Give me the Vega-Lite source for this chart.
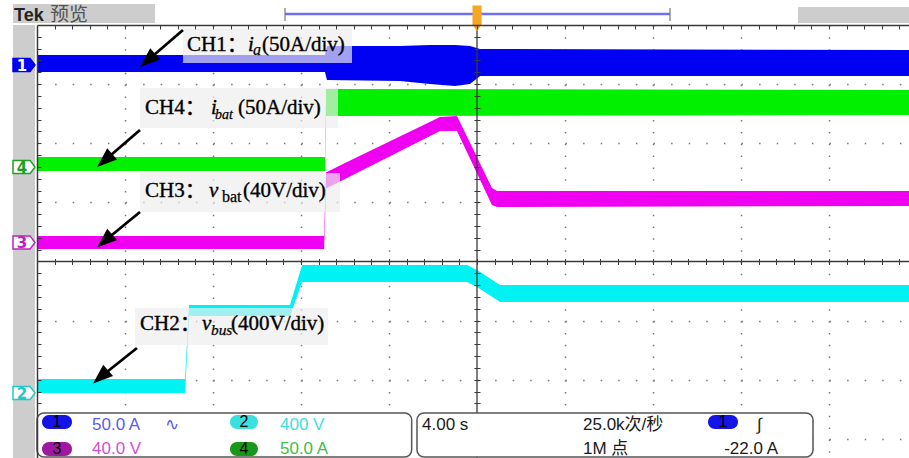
{
  "$schema": "https://vega.github.io/schema/vega-lite/v6.json",
  "width": 872,
  "height": 433,
  "autosize": {"type": "none"},
  "padding": {"left": 37, "top": 25, "right": 0, "bottom": 0},
  "background": "white",
  "config": {"view": {"stroke": null}},
  "resolve": {
    "axis": {"x": "independent", "y": "independent"},
    "scale": {"color": "independent", "fill": "independent", "stroke": "independent", "size": "independent"}
  },
  "datasets": {
    "anchor": [{"t": 20, "v": 0}],
    "traces": [
      {"ch": "CH1", "t": 0, "hi": 3.4926, "lo": 3.205},
      {"ch": "CH1", "t": 13.09, "hi": 3.4926, "lo": 3.205},
      {"ch": "CH1", "t": 13.18, "hi": 3.645, "lo": 3.07},
      {"ch": "CH1", "t": 16.5, "hi": 3.645, "lo": 3.053},
      {"ch": "CH1", "t": 17.86, "hi": 3.662, "lo": 3.002},
      {"ch": "CH1", "t": 19.0, "hi": 3.662, "lo": 2.968},
      {"ch": "CH1", "t": 19.68, "hi": 3.645, "lo": 3.002},
      {"ch": "CH1", "t": 20.14, "hi": 3.594, "lo": 3.137},
      {"ch": "CH1", "t": 39.64, "hi": 3.577, "lo": 3.137},
      {"ch": "CH4", "t": 0, "hi": 1.767, "lo": 1.531},
      {"ch": "CH4", "t": 13.09, "hi": 1.767, "lo": 1.531},
      {"ch": "CH4", "t": 13.14, "hi": 2.918, "lo": 2.461},
      {"ch": "CH4", "t": 39.64, "hi": 2.901, "lo": 2.478},
      {"ch": "CH3", "t": 0, "hi": 0.431, "lo": 0.211},
      {"ch": "CH3", "t": 13.05, "hi": 0.431, "lo": 0.211},
      {"ch": "CH3", "t": 13.14, "hi": 1.514, "lo": 1.243},
      {"ch": "CH3", "t": 13.18, "hi": 1.514, "lo": 1.243},
      {"ch": "CH3", "t": 14.0, "hi": 1.666, "lo": 1.395},
      {"ch": "CH3", "t": 18.32, "hi": 2.444, "lo": 2.207},
      {"ch": "CH3", "t": 19.09, "hi": 2.461, "lo": 2.207},
      {"ch": "CH3", "t": 20.68, "hi": 1.243, "lo": 0.956},
      {"ch": "CH3", "t": 20.91, "hi": 1.192, "lo": 0.922},
      {"ch": "CH3", "t": 39.64, "hi": 1.192, "lo": 0.939},
      {"ch": "CH2", "t": 0, "hi": -1.987, "lo": -2.224},
      {"ch": "CH2", "t": 6.73, "hi": -1.987, "lo": -2.224},
      {"ch": "CH2", "t": 6.91, "hi": -0.736, "lo": -0.922},
      {"ch": "CH2", "t": 11.5, "hi": -0.736, "lo": -0.922},
      {"ch": "CH2", "t": 12.05, "hi": -0.059, "lo": -0.347},
      {"ch": "CH2", "t": 19.55, "hi": -0.059, "lo": -0.347},
      {"ch": "CH2", "t": 20.0, "hi": -0.144, "lo": -0.431},
      {"ch": "CH2", "t": 21.05, "hi": -0.398, "lo": -0.685},
      {"ch": "CH2", "t": 39.64, "hi": -0.398, "lo": -0.685}
    ],
    "grayRects": [
      {"t1": -1.091, "t2": 5.364, "v1": 4.355, "v2": 4.034},
      {"t1": 34.591, "t2": 39.64, "v1": 4.3044, "v2": 4.034},
      {"t1": -1.091, "t2": -0.091, "v1": 4.0, "v2": -3.3235}
    ],
    "markers": [
      {"ch": "CH1", "num": "1", "t": -0.591, "v": 3.3235},
      {"ch": "CH4", "num": "4", "t": -0.591, "v": 1.598},
      {"ch": "CH3", "num": "3", "t": -0.591, "v": 0.3214},
      {"ch": "CH2", "num": "2", "t": -0.591, "v": -2.224}
    ],
    "labelBoxes": [
      {"ch": "CH1", "t1": 6.636, "t2": 14.318, "v1": 3.9493, "v2": 3.3573},
      {"ch": "CH4", "t1": 4.682, "t2": 13.682, "v1": 2.9345, "v2": 2.2579},
      {"ch": "CH3", "t1": 4.682, "t2": 13.773, "v1": 1.4968, "v2": 0.8372},
      {"ch": "CH2", "t1": 4.455, "t2": 13.227, "v1": -0.7865, "v2": -1.4123}
    ],
    "labelText": [
      {"ch": "CH1", "part": "main", "t": 6.818, "v": 3.5603, "txt": "CH1："},
      {"ch": "CH1", "part": "var", "t": 9.591, "v": 3.5603, "txt": "i"},
      {"ch": "CH1", "part": "sub", "t": 9.818, "v": 3.4926, "txt": "a"},
      {"ch": "CH1", "part": "main", "t": 10.227, "v": 3.5603, "txt": "(50A/div)"},
      {"ch": "CH4", "part": "main", "t": 4.909, "v": 2.4947, "txt": "CH4："},
      {"ch": "CH4", "part": "var", "t": 7.909, "v": 2.4947, "txt": "i"},
      {"ch": "CH4", "part": "sub", "t": 8.091, "v": 2.4101, "txt": "bat"},
      {"ch": "CH4", "part": "main", "t": 9.136, "v": 2.4947, "txt": "(50A/div)"},
      {"ch": "CH3", "part": "main", "t": 4.909, "v": 1.0909, "txt": "CH3："},
      {"ch": "CH3", "part": "var", "t": 7.818, "v": 1.0909, "txt": "v"},
      {"ch": "CH3", "part": "subr", "t": 8.409, "v": 1.0063, "txt": "bat"},
      {"ch": "CH3", "part": "main", "t": 9.364, "v": 1.0909, "txt": "(40V/div)"},
      {"ch": "CH2", "part": "main", "t": 4.682, "v": -1.1586, "txt": "CH2："},
      {"ch": "CH2", "part": "var", "t": 7.5, "v": -1.1586, "txt": "v"},
      {"ch": "CH2", "part": "sub", "t": 7.909, "v": -1.2431, "txt": "bus"},
      {"ch": "CH2", "part": "main", "t": 8.818, "v": -1.1586, "txt": "(400V/div)"}
    ],
    "arrows": [
      {"ch": "CH1", "t0": 6.636, "v0": 3.9154, "t1": 5.027, "v1": 3.3996},
      {"ch": "CH4", "t0": 4.682, "v0": 2.2241, "t1": 3.073, "v1": 1.7082},
      {"ch": "CH3", "t0": 4.682, "v0": 0.8372, "t1": 3.073, "v1": 0.3467},
      {"ch": "CH2", "t0": 4.545, "v0": -1.463, "t1": 2.891, "v1": -1.9535}
    ],
    "statusBoxes": [
      {"t1": 0, "t2": 17.03, "v1": -2.5624, "v2": -3.3066},
      {"t1": 17.273, "t2": 35.273, "v1": -2.5624, "v2": -3.3066}
    ],
    "pills": [
      {"p": "1", "t1": 0.227, "t2": 1.591, "v1": -2.5962, "v2": -2.833, "tm": 0.909, "vm": -2.7146, "txt": "1"},
      {"p": "2", "t1": 8.773, "t2": 10.045, "v1": -2.5962, "v2": -2.833, "tm": 9.409, "vm": -2.7146, "txt": "2"},
      {"p": "3", "t1": 0.227, "t2": 1.591, "v1": -3.0529, "v2": -3.2896, "tm": 0.909, "vm": -3.1712, "txt": "3"},
      {"p": "4", "t1": 8.773, "t2": 10.045, "v1": -3.0529, "v2": -3.2896, "tm": 9.409, "vm": -3.1712, "txt": "4"},
      {"p": "T", "t1": 30.5, "t2": 31.864, "v1": -2.5962, "v2": -2.833, "tm": 31.182, "vm": -2.7146, "txt": "1"}
    ],
    "statusText": [
      {"c": "1", "t": 2.5, "v": -2.8499, "txt": "50.0 A"},
      {"c": "1", "t": 5.818, "v": -2.8499, "txt": "∿"},
      {"c": "2", "t": 11.045, "v": -2.8499, "txt": "400 V"},
      {"c": "3", "t": 2.5, "v": -3.2558, "txt": "40.0 V"},
      {"c": "4", "t": 11.045, "v": -3.2558, "txt": "50.0 A"},
      {"c": "k", "t": 17.5, "v": -2.8499, "txt": "4.00 s"},
      {"c": "k", "t": 24.818, "v": -2.8499, "txt": "25.0k次/秒"},
      {"c": "k", "t": 24.818, "v": -3.2558, "txt": "1M 点"},
      {"c": "k", "t": 32.727, "v": -2.8499, "txt": "∫"}
    ]
  },
  "layer": [
    {
      "data": {"name": "traces"},
      "mark": {"type": "area", "interpolate": "linear"},
      "encoding": {
        "x": {"field": "t", "type": "quantitative", "scale": {"domain": [0, 39.6364], "nice": false, "zero": false},
          "axis": {"orient": "bottom", "values": [4, 8, 12, 16, 24, 28, 32, 36], "grid": true, "gridColor": "#7a7a7a", "gridWidth": 1.5, "gridDash": [1.5, 10.325], "domain": false, "ticks": false, "labels": false, "title": null}},
        "y": {"field": "hi", "type": "quantitative", "stack": null, "scale": {"domain": [-3.3235, 4], "nice": false, "zero": false},
          "axis": {"orient": "left", "values": [-3, -2, -1, 1, 2, 3], "grid": true, "gridColor": "#7a7a7a", "gridWidth": 1.5, "gridDash": [1.5, 16.1], "domain": false, "ticks": false, "labels": false, "title": null}},
        "y2": {"field": "lo"},
        "color": {"field": "ch", "type": "nominal", "scale": {"domain": ["CH1", "CH2", "CH3", "CH4"], "range": ["#0000f2", "#00f2f2", "#f000f0", "#00f000"]}, "legend": null}
      }
    },
    {
      "data": {"name": "anchor"},
      "mark": {"type": "point", "opacity": 0},
      "encoding": {
        "x": {"field": "t", "type": "quantitative", "scale": {"domain": [0, 39.6364], "nice": false, "zero": false},
          "axis": {"orient": "bottom", "offset": -433, "values": [0.8,1.6,2.4,3.2,4,4.8,5.6,6.4,7.2,8,8.8,9.6,10.4,11.2,12,12.8,13.6,14.4,15.2,16,16.8,17.6,18.4,19.2,20,20.8,21.6,22.4,23.2,24,24.8,25.6,26.4,27.2,28,28.8,29.6,30.4,31.2,32,32.8,33.6,34.4,35.2,36,36.8,37.6,38.4,39.2], "domain": true, "domainColor": "#3a3a3a", "domainWidth": 1.5, "ticks": true, "tickSize": 4, "tickColor": "#3a3a3a", "tickWidth": 1, "labels": false, "grid": false, "title": null, "zindex": 1}},
        "y": {"field": "v", "type": "quantitative", "scale": {"domain": [-3.3235, 4], "nice": false, "zero": false},
          "axis": {"orient": "right", "offset": -872, "values": [-2.4,-2.2,-2,-1.8,-1.6,-1.4,-1.2,-1,-0.8,-0.6,-0.4,-0.2,0,0.2,0.4,0.6,0.8,1,1.2,1.4,1.6,1.8,2,2.2,2.4,2.6,2.8,3,3.2,3.4,3.6,3.8], "domain": true, "domainColor": "#3a3a3a", "domainWidth": 1.5, "ticks": true, "tickSize": 4, "tickColor": "#3a3a3a", "tickWidth": 1, "labels": false, "grid": false, "title": null, "zindex": 1}}
      }
    },
    {
      "data": {"name": "anchor"},
      "mark": {"type": "point", "opacity": 0},
      "encoding": {
        "x": {"field": "t", "type": "quantitative", "scale": {"domain": [0, 39.6364], "nice": false, "zero": false},
          "axis": {"orient": "bottom", "offset": -199.5, "values": [0.8,1.6,2.4,3.2,4,4.8,5.6,6.4,7.2,8,8.8,9.6,10.4,11.2,12,12.8,13.6,14.4,15.2,16,16.8,17.6,18.4,19.2,20,20.8,21.6,22.4,23.2,24,24.8,25.6,26.4,27.2,28,28.8,29.6,30.4,31.2,32,32.8,33.6,34.4,35.2,36,36.8,37.6,38.4,39.2], "domain": false, "ticks": true, "tickSize": 6, "tickColor": "#3a3a3a", "tickWidth": 1, "labels": false, "grid": false, "title": null, "zindex": 1}},
        "y": {"field": "v", "type": "quantitative", "scale": {"domain": [-3.3235, 4], "nice": false, "zero": false},
          "axis": {"orient": "left", "offset": -443, "values": [-2.4,-2.2,-2,-1.8,-1.6,-1.4,-1.2,-1,-0.8,-0.6,-0.4,-0.2,0,0.2,0.4,0.6,0.8,1,1.2,1.4,1.6,1.8,2,2.2,2.4,2.6,2.8,3,3.2,3.4,3.6,3.8], "domain": false, "ticks": true, "tickSize": 6, "tickColor": "#3a3a3a", "tickWidth": 1, "labels": false, "grid": false, "title": null, "zindex": 1}}
      }
    },
    {
      "data": {"name": "anchor"},
      "mark": {"type": "rule", "color": "#3a3a3a", "strokeWidth": 1.3},
      "encoding": {
        "y": {"field": "v", "type": "quantitative", "scale": {"domain": [-3.3235, 4], "nice": false, "zero": false}, "axis": null}
      }
    },
    {
      "data": {"name": "anchor"},
      "mark": {"type": "rule", "color": "#3a3a3a", "strokeWidth": 1.3},
      "encoding": {
        "x": {"field": "t", "type": "quantitative", "scale": {"domain": [0, 39.6364], "nice": false, "zero": false}, "axis": null}
      }
    },
    {
      "data": {"name": "grayRects"},
      "mark": {"type": "rect", "color": "#cdcdcd"},
      "encoding": {
        "x": {"field": "t1", "type": "quantitative", "scale": {"domain": [0, 39.6364], "nice": false, "zero": false}, "axis": null},
        "x2": {"field": "t2"},
        "y": {"field": "v1", "type": "quantitative", "scale": {"domain": [-3.3235, 4], "nice": false, "zero": false}, "axis": null},
        "y2": {"field": "v2"}
      }
    },
    {
      "data": {"values": [{"t": -1.045, "v": 4.0677, "txt": "Tek"}]},
      "mark": {"type": "text", "align": "left", "baseline": "alphabetic", "font": "Liberation Sans", "fontSize": 18, "fontWeight": "bold", "color": "#222222"},
      "encoding": {
        "x": {"field": "t", "type": "quantitative", "scale": {"domain": [0, 39.6364], "nice": false, "zero": false}, "axis": null},
        "y": {"field": "v", "type": "quantitative", "scale": {"domain": [-3.3235, 4], "nice": false, "zero": false}, "axis": null},
        "text": {"field": "txt"}
      }
    },
    {
      "data": {"values": [{"t": 0.591, "v": 4.0677, "txt": "预览"}]},
      "mark": {"type": "text", "align": "left", "baseline": "alphabetic", "font": "Noto Sans CJK SC", "fontSize": 19, "color": "#555555"},
      "encoding": {
        "x": {"field": "t", "type": "quantitative", "scale": {"domain": [0, 39.6364], "nice": false, "zero": false}, "axis": null},
        "y": {"field": "v", "type": "quantitative", "scale": {"domain": [-3.3235, 4], "nice": false, "zero": false}, "axis": null},
        "text": {"field": "txt"}
      }
    },
    {
      "data": {"values": [{"t0": 11.273, "t1": 28.773, "v": 4.186}]},
      "mark": {"type": "rule", "color": "#7070ee", "strokeWidth": 2.5},
      "encoding": {
        "x": {"field": "t0", "type": "quantitative", "scale": {"domain": [0, 39.6364], "nice": false, "zero": false}, "axis": null},
        "x2": {"field": "t1"},
        "y": {"field": "v", "type": "quantitative", "scale": {"domain": [-3.3235, 4], "nice": false, "zero": false}, "axis": null}
      }
    },
    {
      "data": {"values": [{"t": 11.273, "v0": 4.287, "v1": 4.067}, {"t": 28.773, "v0": 4.287, "v1": 4.067}]},
      "mark": {"type": "rule", "color": "#777777", "strokeWidth": 1.2},
      "encoding": {
        "x": {"field": "t", "type": "quantitative", "scale": {"domain": [0, 39.6364], "nice": false, "zero": false}, "axis": null},
        "y": {"field": "v0", "type": "quantitative", "scale": {"domain": [-3.3235, 4], "nice": false, "zero": false}, "axis": null},
        "y2": {"field": "v1"}
      }
    },
    {
      "data": {"values": [{"t": 20, "v": 4.11}]},
      "mark": {"type": "point", "filled": true, "opacity": 1, "color": "#f5a623", "size": 676, "shape": "M-0.35,-1L0.35,-1L0.35,0.45L0,1L-0.35,0.45Z"},
      "encoding": {
        "x": {"field": "t", "type": "quantitative", "scale": {"domain": [0, 39.6364], "nice": false, "zero": false}, "axis": null},
        "y": {"field": "v", "type": "quantitative", "scale": {"domain": [-3.3235, 4], "nice": false, "zero": false}, "axis": null}
      }
    },
    {
      "data": {"name": "markers"},
      "mark": {"type": "point", "filled": true, "opacity": 1, "size": 484, "strokeWidth": 1.5, "shape": "M-1,-0.6L0.55,-0.6L1,0L0.55,0.6L-1,0.6Z"},
      "encoding": {
        "x": {"field": "t", "type": "quantitative", "scale": {"domain": [0, 39.6364], "nice": false, "zero": false}, "axis": null},
        "y": {"field": "v", "type": "quantitative", "scale": {"domain": [-3.3235, 4], "nice": false, "zero": false}, "axis": null},
        "fill": {"field": "ch", "type": "nominal", "scale": {"domain": ["CH1", "CH2", "CH3", "CH4"], "range": ["#0000f0", "#ffffff", "#ffffff", "#ffffff"]}, "legend": null},
        "stroke": {"field": "ch", "type": "nominal", "scale": {"domain": ["CH1", "CH2", "CH3", "CH4"], "range": ["#0000f0", "#22c8c8", "#c020c0", "#20a020"]}, "legend": null}
      }
    },
    {
      "data": {"name": "markers"},
      "mark": {"type": "text", "align": "center", "baseline": "middle", "font": "DejaVu Sans", "fontSize": 15, "fontWeight": "bold", "dx": -2, "dy": 1},
      "encoding": {
        "x": {"field": "t", "type": "quantitative", "scale": {"domain": [0, 39.6364], "nice": false, "zero": false}, "axis": null},
        "y": {"field": "v", "type": "quantitative", "scale": {"domain": [-3.3235, 4], "nice": false, "zero": false}, "axis": null},
        "text": {"field": "num"},
        "color": {"field": "ch", "type": "nominal", "scale": {"domain": ["CH1", "CH2", "CH3", "CH4"], "range": ["#ffffff", "#22c8c8", "#c020c0", "#20a020"]}, "legend": null}
      }
    },
    {
      "data": {"name": "labelBoxes"},
      "mark": {"type": "rect", "color": "#eeeeee", "opacity": 0.68},
      "encoding": {
        "x": {"field": "t1", "type": "quantitative", "scale": {"domain": [0, 39.6364], "nice": false, "zero": false}, "axis": null},
        "x2": {"field": "t2"},
        "y": {"field": "v1", "type": "quantitative", "scale": {"domain": [-3.3235, 4], "nice": false, "zero": false}, "axis": null},
        "y2": {"field": "v2"}
      }
    },
    {
      "data": {"name": "labelText"},
      "transform": [{"filter": "datum.part === 'main'"}],
      "mark": {"type": "text", "align": "left", "baseline": "alphabetic", "font": "Liberation Serif, Noto Sans CJK SC", "color": "#000000", "stroke": "#000000", "strokeWidth": 0.35},
      "encoding": {
        "x": {"field": "t", "type": "quantitative", "scale": {"domain": [0, 39.6364], "nice": false, "zero": false}, "axis": null},
        "y": {"field": "v", "type": "quantitative", "scale": {"domain": [-3.3235, 4], "nice": false, "zero": false}, "axis": null},
        "text": {"field": "txt"},
        "size": {"field": "ch", "type": "nominal", "scale": {"domain": ["CH1", "CH2", "CH3", "CH4"], "range": [21, 21, 24, 23]}, "legend": null}
      }
    },
    {
      "data": {"name": "labelText"},
      "transform": [{"filter": "datum.part === 'var'"}],
      "mark": {"type": "text", "align": "left", "baseline": "alphabetic", "font": "Liberation Serif", "fontStyle": "italic", "color": "#000000", "stroke": "#000000", "strokeWidth": 0.35},
      "encoding": {
        "x": {"field": "t", "type": "quantitative", "scale": {"domain": [0, 39.6364], "nice": false, "zero": false}, "axis": null},
        "y": {"field": "v", "type": "quantitative", "scale": {"domain": [-3.3235, 4], "nice": false, "zero": false}, "axis": null},
        "text": {"field": "txt"},
        "size": {"field": "ch", "type": "nominal", "scale": {"domain": ["CH1", "CH2", "CH3", "CH4"], "range": [21, 21, 24, 23]}, "legend": null}
      }
    },
    {
      "data": {"name": "labelText"},
      "transform": [{"filter": "datum.part === 'sub'"}],
      "mark": {"type": "text", "align": "left", "baseline": "alphabetic", "font": "Liberation Serif", "fontStyle": "italic", "color": "#000000", "stroke": "#000000", "strokeWidth": 0.25},
      "encoding": {
        "x": {"field": "t", "type": "quantitative", "scale": {"domain": [0, 39.6364], "nice": false, "zero": false}, "axis": null},
        "y": {"field": "v", "type": "quantitative", "scale": {"domain": [-3.3235, 4], "nice": false, "zero": false}, "axis": null},
        "text": {"field": "txt"},
        "size": {"field": "ch", "type": "nominal", "scale": {"domain": ["CH1", "CH2", "CH3", "CH4"], "range": [16, 14, 15, 18]}, "legend": null}
      }
    },
    {
      "data": {"name": "labelText"},
      "transform": [{"filter": "datum.part === 'subr'"}],
      "mark": {"type": "text", "align": "left", "baseline": "alphabetic", "font": "Liberation Serif", "fontSize": 16, "color": "#000000", "stroke": "#000000", "strokeWidth": 0.25},
      "encoding": {
        "x": {"field": "t", "type": "quantitative", "scale": {"domain": [0, 39.6364], "nice": false, "zero": false}, "axis": null},
        "y": {"field": "v", "type": "quantitative", "scale": {"domain": [-3.3235, 4], "nice": false, "zero": false}, "axis": null},
        "text": {"field": "txt"}
      }
    },
    {
      "data": {"name": "arrows"},
      "mark": {"type": "rule", "color": "#000000", "strokeWidth": 2.8},
      "encoding": {
        "x": {"field": "t0", "type": "quantitative", "scale": {"domain": [0, 39.6364], "nice": false, "zero": false}, "axis": null},
        "x2": {"field": "t1"},
        "y": {"field": "v0", "type": "quantitative", "scale": {"domain": [-3.3235, 4], "nice": false, "zero": false}, "axis": null},
        "y2": {"field": "v1"}
      }
    },
    {
      "data": {"name": "arrows"},
      "mark": {"type": "point", "filled": true, "opacity": 1, "color": "#000000", "size": 400, "angle": 229, "shape": "M0,-1L0.75,1L-0.75,1Z"},
      "encoding": {
        "x": {"field": "t1", "type": "quantitative", "scale": {"domain": [0, 39.6364], "nice": false, "zero": false}, "axis": null},
        "y": {"field": "v1", "type": "quantitative", "scale": {"domain": [-3.3235, 4], "nice": false, "zero": false}, "axis": null}
      }
    },
    {
      "data": {"name": "statusBoxes"},
      "mark": {"type": "rect", "fill": "#ffffff", "stroke": "#555555", "strokeWidth": 1.5, "cornerRadius": 7},
      "encoding": {
        "x": {"field": "t1", "type": "quantitative", "scale": {"domain": [0, 39.6364], "nice": false, "zero": false}, "axis": null},
        "x2": {"field": "t2"},
        "y": {"field": "v1", "type": "quantitative", "scale": {"domain": [-3.3235, 4], "nice": false, "zero": false}, "axis": null},
        "y2": {"field": "v2"}
      }
    },
    {
      "data": {"name": "pills"},
      "mark": {"type": "rect", "cornerRadius": 7},
      "encoding": {
        "x": {"field": "t1", "type": "quantitative", "scale": {"domain": [0, 39.6364], "nice": false, "zero": false}, "axis": null},
        "x2": {"field": "t2"},
        "y": {"field": "v1", "type": "quantitative", "scale": {"domain": [-3.3235, 4], "nice": false, "zero": false}, "axis": null},
        "y2": {"field": "v2"},
        "fill": {"field": "p", "type": "nominal", "scale": {"domain": ["1", "2", "3", "4", "T"], "range": ["#1414e6", "#3ae0e0", "#a0189f", "#189818", "#1414e6"]}, "legend": null}
      }
    },
    {
      "data": {"name": "pills"},
      "mark": {"type": "text", "align": "center", "baseline": "middle", "font": "Liberation Sans", "fontSize": 16, "color": "#000000"},
      "encoding": {
        "x": {"field": "tm", "type": "quantitative", "scale": {"domain": [0, 39.6364], "nice": false, "zero": false}, "axis": null},
        "y": {"field": "vm", "type": "quantitative", "scale": {"domain": [-3.3235, 4], "nice": false, "zero": false}, "axis": null},
        "text": {"field": "txt"}
      }
    },
    {
      "data": {"name": "statusText"},
      "mark": {"type": "text", "align": "left", "baseline": "alphabetic", "font": "Liberation Sans, DejaVu Sans, Noto Sans CJK SC", "fontSize": 17},
      "encoding": {
        "x": {"field": "t", "type": "quantitative", "scale": {"domain": [0, 39.6364], "nice": false, "zero": false}, "axis": null},
        "y": {"field": "v", "type": "quantitative", "scale": {"domain": [-3.3235, 4], "nice": false, "zero": false}, "axis": null},
        "text": {"field": "txt"},
        "color": {"field": "c", "type": "nominal", "scale": {"domain": ["1", "2", "3", "4", "k"], "range": ["#5a5af0", "#3ee0e0", "#d050d0", "#40c040", "#1a1a1a"]}, "legend": null}
      }
    },
    {
      "data": {"values": [{"t": 33.682, "v": -3.2558, "txt": "-22.0 A"}]},
      "mark": {"type": "text", "align": "right", "baseline": "alphabetic", "font": "Liberation Sans", "fontSize": 17, "color": "#1a1a1a"},
      "encoding": {
        "x": {"field": "t", "type": "quantitative", "scale": {"domain": [0, 39.6364], "nice": false, "zero": false}, "axis": null},
        "y": {"field": "v", "type": "quantitative", "scale": {"domain": [-3.3235, 4], "nice": false, "zero": false}, "axis": null},
        "text": {"field": "txt"}
      }
    }
  ]
}
